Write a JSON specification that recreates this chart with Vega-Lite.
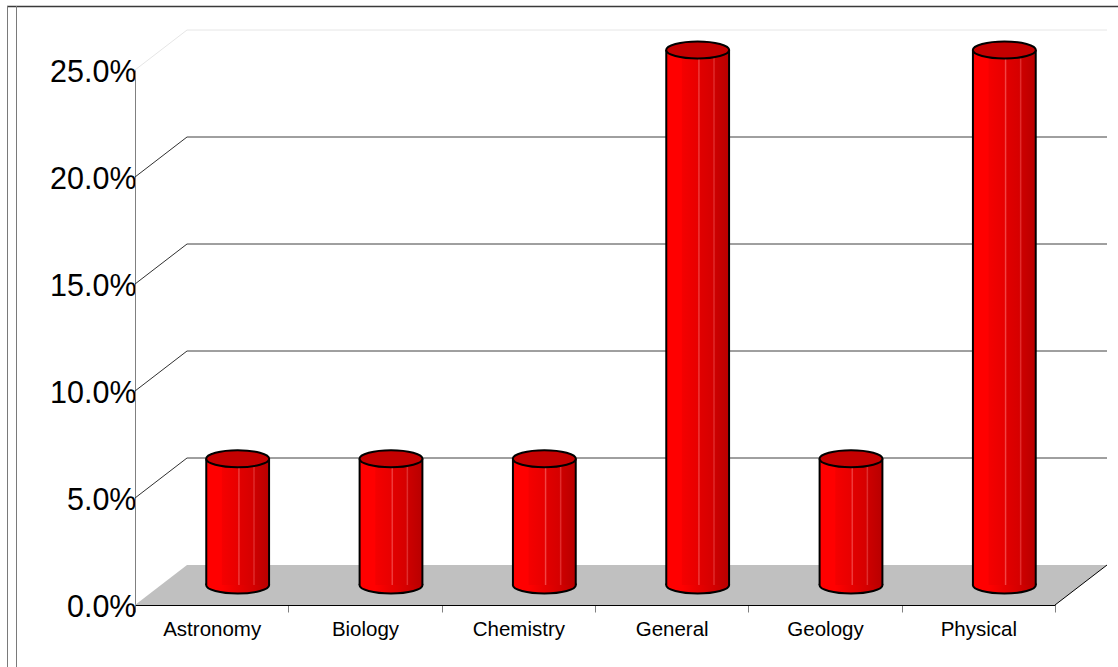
{
  "$schema": "https://vega.github.io/schema/vega-lite/v6.json",
  "autosize": {"type": "none"},
  "padding": {"left": 7, "top": 6, "right": 0, "bottom": 0},
  "width": 1111,
  "height": 661,
  "background": "white",
  "config": {
    "view": {"stroke": null},
    "font": "Liberation Sans"
  },
  "datasets": {
    "shares": [
      {"subject": "Astronomy", "share": 0.059},
      {"subject": "Biology", "share": 0.059},
      {"subject": "Chemistry", "share": 0.059},
      {"subject": "General", "share": 0.25},
      {"subject": "Geology", "share": 0.059},
      {"subject": "Physical", "share": 0.25}
    ],
    "grid": [{"v": 0.05}, {"v": 0.1}, {"v": 0.15}, {"v": 0.2}, {"v": 0.25}],
    "base": [{"v": 0}]
  },
  "layer": [
    {
      "data": {"name": "grid"},
      "mark": {"type": "rule", "strokeWidth": 1, "xOffset": 52, "x2Offset": 52, "yOffset": -40},
      "encoding": {
        "x": {"datum": "Astronomy", "type": "nominal", "bandPosition": 0,
          "scale": {"type": "band", "domain": ["Astronomy", "Biology", "Chemistry", "General", "Geology", "Physical"], "range": [128, 1048], "paddingInner": 0, "paddingOuter": 0},
          "axis": {"title": null, "orient": "bottom", "offset": -62, "domainColor": "#000000", "domainWidth": 1, "tickBand": "extent", "tickColor": "#808080", "tickSize": 7, "labelFontSize": 20.5, "labelColor": "#000000", "labelPadding": 7, "labelAngle": 0, "grid": false}},
        "x2": {"datum": "Physical", "bandPosition": 1},
        "y": {"field": "v", "type": "quantitative",
          "scale": {"domain": [0, 0.25], "range": [599, 64], "nice": false, "zero": true},
          "axis": {"title": null, "orient": "left", "offset": -128, "values": [0, 0.05, 0.1, 0.15, 0.2, 0.25], "format": ".1%", "domainColor": "#808080", "ticks": false, "labelFontSize": 30.5, "labelColor": "#000000", "labelPadding": -1, "labelOffset": 2, "grid": false}},
        "color": {"condition": {"test": "datum.v >= 0.25", "value": "#e6e6e6"}, "value": "#404040"}
      }
    },
    {
      "data": {"name": "grid"},
      "mark": {"type": "rule", "strokeWidth": 1, "x2Offset": 52, "y2Offset": -40},
      "encoding": {
        "x": {"datum": "Astronomy", "type": "nominal", "bandPosition": 0},
        "x2": {"datum": "Astronomy", "bandPosition": 0},
        "y": {"field": "v", "type": "quantitative"},
        "y2": {"field": "v"},
        "color": {"condition": {"test": "datum.v >= 0.25", "value": "#e6e6e6"}, "value": "#303030"}
      }
    },
    {
      "data": {"name": "base"},
      "mark": {"type": "point", "shape": "M-1,0.04115L0.893,0.04115L1,-0.04115L-0.893,-0.04115Z", "size": 944784, "filled": true, "fill": "#c0c0c0", "strokeWidth": 0, "opacity": 1, "xOffset": 26, "yOffset": -20},
      "encoding": {
        "x": {"datum": "General", "type": "nominal", "bandPosition": 0},
        "y": {"field": "v", "type": "quantitative"}
      }
    },
    {
      "data": {"name": "base"},
      "mark": {"type": "rule", "strokeWidth": 1, "color": "#000000", "x2Offset": 52, "y2Offset": -40},
      "encoding": {
        "x": {"datum": "Physical", "type": "nominal", "bandPosition": 1},
        "x2": {"datum": "Physical", "bandPosition": 1},
        "y": {"field": "v", "type": "quantitative"},
        "y2": {"field": "v"}
      }
    },
    {
      "data": {"name": "base"},
      "mark": {"type": "rule", "strokeWidth": 1.5, "color": "#3a3a3a", "yOffset": -63.5},
      "encoding": {
        "y": {"datum": 0.25, "type": "quantitative"}
      }
    },
    {
      "data": {"name": "base"},
      "mark": {"type": "rule", "strokeWidth": 1, "color": "#7a7a7a", "xOffset": -127.5},
      "encoding": {
        "x": {"datum": "Astronomy", "type": "nominal", "bandPosition": 0}
      }
    },
    {
      "data": {"name": "base"},
      "mark": {"type": "rule", "strokeWidth": 1, "color": "#7a7a7a", "xOffset": -118.5},
      "encoding": {
        "x": {"datum": "Astronomy", "type": "nominal", "bandPosition": 0}
      }
    },
    {
      "data": {"name": "shares"},
      "mark": {"type": "point", "shape": "M-1,0C-1,-0.149,-0.552,-0.27,0,-0.27C0.552,-0.27,1,-0.149,1,0C1,0.149,0.552,0.27,0,0.27C-0.552,0.27,-1,0.149,-1,0Z", "size": 3969, "filled": true, "opacity": 1, "stroke": "#000000", "strokeWidth": 2, "xOffset": 26, "yOffset": -20,
        "fill": {"gradient": "linear", "x1": 0, "y1": 0, "x2": 1, "y2": 0, "stops": [{"offset": 0, "color": "#ff0000"}, {"offset": 0.25, "color": "#ff0000"}, {"offset": 0.5, "color": "#e80000"}, {"offset": 0.75, "color": "#d40000"}, {"offset": 1, "color": "#b80000"}]}},
      "encoding": {
        "x": {"field": "subject", "type": "nominal"},
        "y": {"datum": 0, "type": "quantitative"}
      }
    },
    {
      "data": {"name": "shares"},
      "mark": {"type": "bar", "width": {"band": 0.41}, "xOffset": 26, "yOffset": -20, "strokeWidth": 0,
        "fill": {"gradient": "linear", "x1": 0, "y1": 0, "x2": 1, "y2": 0, "stops": [{"offset": 0, "color": "#ff0000"}, {"offset": 0.24, "color": "#ff0000"}, {"offset": 0.26, "color": "#f40000"}, {"offset": 0.5, "color": "#e80000"}, {"offset": 0.52, "color": "#f24848"}, {"offset": 0.54, "color": "#e00000"}, {"offset": 0.74, "color": "#d60000"}, {"offset": 0.76, "color": "#e23434"}, {"offset": 0.78, "color": "#cc0000"}, {"offset": 1, "color": "#b80000"}]}},
      "encoding": {
        "x": {"field": "subject", "type": "nominal"},
        "y": {"field": "share", "type": "quantitative"}
      }
    },
    {
      "data": {"name": "shares"},
      "mark": {"type": "rule", "color": "#000000", "strokeWidth": 2, "xOffset": -5.4, "yOffset": -20, "y2Offset": -20},
      "encoding": {
        "x": {"field": "subject", "type": "nominal"},
        "y": {"field": "share", "type": "quantitative"},
        "y2": {"datum": 0}
      }
    },
    {
      "data": {"name": "shares"},
      "mark": {"type": "rule", "color": "#000000", "strokeWidth": 2, "xOffset": 57.4, "yOffset": -20, "y2Offset": -20},
      "encoding": {
        "x": {"field": "subject", "type": "nominal"},
        "y": {"field": "share", "type": "quantitative"},
        "y2": {"datum": 0}
      }
    },
    {
      "data": {"name": "shares"},
      "mark": {"type": "point", "shape": "M-1,0C-1,-0.149,-0.552,-0.27,0,-0.27C0.552,-0.27,1,-0.149,1,0C1,0.149,0.552,0.27,0,0.27C-0.552,0.27,-1,0.149,-1,0Z", "size": 3969, "filled": true, "opacity": 1, "fill": "#c40000", "stroke": "#000000", "strokeWidth": 2, "xOffset": 26, "yOffset": -20},
      "encoding": {
        "x": {"field": "subject", "type": "nominal"},
        "y": {"field": "share", "type": "quantitative"}
      }
    }
  ]
}
